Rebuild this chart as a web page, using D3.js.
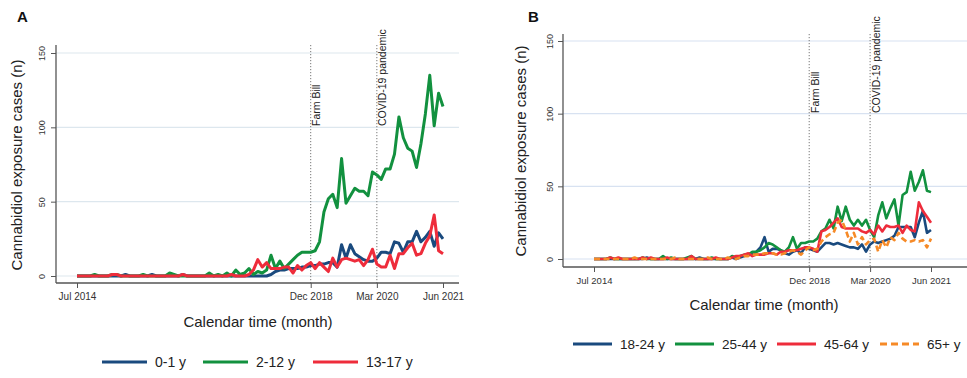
<!DOCTYPE html>
<html>
<head>
<meta charset="utf-8">
<script src="https://cdn.jsdelivr.net/npm/d3@7"></script>
<style>
    body { margin: 0; background: #fff; }
    svg { font-family: "Liberation Sans", Arial, sans-serif; }
</style>
</head>
<body>
<div id="chart"></div>
<script>

// monthly counts, Jul 2014 .. Jun 2021 (84 months)
const firstMonth = "2014-07";
const tickMonths = ["2014-07", "2018-12", "2020-03", "2021-06"];
const tickLabels = ["Jul 2014", "Dec 2018", "Mar 2020", "Jun 2021"];
const eventMonths = ["2018-12", "2020-03"];
const eventLabels = ["Farm Bill", "COVID-19 pandemic"];
const yTicks = [0, 50, 100, 150];

// panel A - children / adolescents
const pedsGroups = ["0-1 y", "2-12 y", "13-17 y"];
const age0to1 = [
    0,0,0,0,0,0,0,0,0,0, 0,1,0,0,0,0,0,1,0,0, 0,0,0,0,1,0,0,0,0,0,
    0,0,0,0,0,0,0,0,0,0, 0,0,0,0,1,3,4,4,5,5, 5,6,6,7,7,8,8,9,9,6,
    21,12,21,15,13,11,10,10,12,16, 16,15,23,22,16,23,23,30,23,26, 30,20,29,25
];
const age2to12 = [
    0,0,0,0,1,0,0,0,1,1, 0,0,0,0,0,1,0,0,0,0, 0,2,1,0,0,0,0,0,0,0,
    2,0,1,0,2,0,4,1,2,5, 1,3,2,4,14,5,10,5,8,11, 14,16,16,16,17,23,43,52,55,46,
    79,49,54,59,57,57,54,70,68,65, 72,72,82,107,93,86,84,73,89,109, 135,101,123,114
];
const age13to17 = [
    0,0,0,0,0,0,0,0,1,1, 0,0,0,0,0,0,0,0,0,0, 0,0,0,0,1,0,0,0,0,0,
    0,0,0,0,0,1,0,0,0,1, 4,11,6,9,5,5,5,6,6,2, 7,4,7,9,5,9,6,3,12,6,
    11,12,11,10,11,7,11,18,8,6, 6,14,5,15,15,19,22,14,15,22, 27,41,17,15
];

// panel B - adults
const adultGroups = ["18-24 y", "25-44 y", "45-64 y", "65+ y"];
const age18to24 = [
    0,0,0,0,0,0,0,0,0,0, 0,0,0,1,0,0,0,0,0,0, 0,0,0,0,0,0,1,0,0,0, 0,0,0,0,1,0,
    1,2,3,3,5,8,15,5,7,7, 6,4,3,5,6,4,8,7,6,5, 8,11,11,10,11,10,9,8,8,7,
    10,5,10,12,11,12,13,14,16,22, 22,22,22,15,25,33,18,20
];
const age25to44 = [
    0,0,0,0,1,0,0,0,0,0, 0,0,1,0,0,0,0,2,0,1, 0,0,0,1,2,0,0,0,0,1, 0,0,0,0,2,1,
    2,3,3,5,5,6,8,11,10,8, 6,5,8,15,7,11,11,12,12,14, 19,21,27,21,36,26,36,27,23,27,
    23,27,20,15,30,39,28,35,41,23, 44,46,60,47,53,61,47,46
];
const age45to64 = [
    0,0,0,0,1,0,1,0,0,0, 0,0,1,0,1,0,0,0,1,0, 0,0,0,0,2,0,0,0,0,0, 1,0,0,0,1,2,
    2,3,4,2,3,3,3,4,4,3, 5,5,6,6,6,7,8,8,7,5, 19,20,22,25,28,22,21,21,21,21,
    19,18,20,17,23,19,23,22,22,23, 18,23,20,19,39,33,29,25
];
const age65plus = [
    0,0,0,0,0,0,0,0,0,0, 1,0,0,0,0,0,0,0,0,0, 1,0,0,0,0,0,0,0,1,0, 0,0,0,1,0,0,
    1,2,2,3,3,3,4,4,4,3, 3,4,5,6,5,3,6,8,6,7, 12,15,17,18,25,27,20,12,18,10,
    15,10,13,14,5,13,8,15,13,18, 14,12,12,13,12,13,8,14
];

const blue = "#1a4a7e", green = "#12913f", red = "#ee2c3b", orange = "#f68a27";

function monthIndex(s) {
    let [y, m] = s.split("-").map(Number);
    let [y0, m0] = firstMonth.split("-").map(Number);
    return (y - y0) * 12 + (m - m0);
}

const svg = d3.select("#chart").append("svg")
    .attr("width", 967)
    .attr("height", 378);

function drawPanel(p) {

    let g = svg.append("g");

    let x = d3.scaleLinear().domain([0, 83]).range([p.x0, p.x1]);
    let y = d3.scaleLinear().domain([0, 150]).range([p.yZero, p.yTop]);

    // panel letter
    g.append("text")
        .attr("x", p.letterX).attr("y", 22)
        .attr("font-size", 15).attr("font-weight", "bold")
        .attr("fill", "#111")
        .text(p.letter);

    // gridlines
    g.selectAll(".grid").data(yTicks).enter().append("line")
        .attr("x1", p.left).attr("x2", p.right)
        .attr("y1", d => y(d)).attr("y2", d => y(d))
        .attr("stroke", p.gridColor).attr("stroke-width", 1.2);

    // event lines
    eventMonths.forEach((m, i) => {
        let xe = x(monthIndex(m));
        g.append("line")
            .attr("x1", xe).attr("x2", xe)
            .attr("y1", p.top).attr("y2", p.axisY)
            .attr("stroke", "#777").attr("stroke-width", 1)
            .attr("stroke-dasharray", "1.2,1.8");
        g.append("text")
            .attr("transform", "translate(" + (xe + p.eventDx) + "," + p.eventY + ") rotate(-90)")
            .attr("font-size", p.eventSize).attr("fill", "#222")
            .text(eventLabels[i]);
    });

    // axes
    let xAxis = d3.axisBottom(x)
        .tickValues(tickMonths.map(monthIndex))
        .tickFormat((d, i) => tickLabels[i])
        .tickSize(5).tickPadding(5);
    let gx = g.append("g")
        .attr("transform", "translate(0," + p.axisY + ")")
        .call(xAxis);
    gx.select(".domain").remove();
    gx.selectAll("line").attr("stroke", "#555");
    gx.selectAll("text").attr("font-size", p.tickSize).attr("fill", "#333").attr("font-family", null);

    let yAxis = d3.axisLeft(y).tickValues(yTicks).tickSize(5);
    let gy = g.append("g")
        .attr("transform", "translate(" + p.left + ",0)")
        .call(yAxis);
    gy.select(".domain").remove();
    gy.selectAll("line").attr("stroke", "#555");
    gy.selectAll("text")
        .attr("x", 0).attr("dy", null)
        .attr("y", -p.yLabelOff)
        .attr("transform", "rotate(-90)")
        .attr("text-anchor", "middle")
        .attr("font-size", 9).attr("fill", "#333").attr("font-family", null);

    g.append("line")
        .attr("x1", p.left).attr("x2", p.left)
        .attr("y1", p.top).attr("y2", p.axisY)
        .attr("stroke", "#555").attr("stroke-width", 1.3);
    g.append("line")
        .attr("x1", p.left).attr("x2", p.right)
        .attr("y1", p.axisY).attr("y2", p.axisY)
        .attr("stroke", "#555").attr("stroke-width", 1.3);

    // axis titles
    g.append("text")
        .attr("x", p.xTitleX).attr("y", p.xTitleY)
        .attr("text-anchor", "middle")
        .attr("font-size", 15).attr("fill", "#222")
        .text("Calendar time (month)");
    g.append("text")
        .attr("transform", "translate(" + p.yTitleX + "," + p.yTitleY + ") rotate(-90)")
        .attr("text-anchor", "middle")
        .attr("font-size", 15).attr("fill", "#222")
        .text("Cannabidiol exposure cases (n)");

    // series
    let line = d3.line()
        .x((d, i) => x(i))
        .y(d => y(d));

    p.series.forEach((s, i) => {
        g.append("path")
            .datum(s)
            .attr("d", line)
            .attr("fill", "none")
            .attr("stroke", p.colors[i])
            .attr("stroke-width", p.lineWidth)
            .attr("stroke-linejoin", "round")
            .attr("stroke-dasharray", p.dashes[i]);
    });

    // legend
    p.names.forEach((name, i) => {
        let lx = p.legendX[i];
        g.append("line")
            .attr("x1", lx).attr("x2", lx + p.legendLen)
            .attr("y1", p.legendY).attr("y2", p.legendY)
            .attr("stroke", p.colors[i])
            .attr("stroke-width", 3.2)
            .attr("stroke-dasharray", p.dashes[i] ? "7,4" : null);
        g.append("text")
            .attr("x", lx + p.legendLen + 8).attr("y", p.legendY + 5)
            .attr("font-size", p.legendSize).attr("fill", "#222")
            .text(name);
    });
}

drawPanel({
    letter: "A", letterX: 17,
    left: 56, right: 459, top: 45, axisY: 283,
    x0: 77, x1: 443, yZero: 276, yTop: 53,
    gridColor: "#dde7ee",
    eventDx: 9, eventY: 126, eventSize: 10.5,
    tickSize: 10, yLabelOff: 11,
    xTitleX: 258, xTitleY: 327, yTitleX: 22, yTitleY: 165,
    series: [age0to1, age2to12, age13to17],
    names: pedsGroups,
    colors: [blue, green, red],
    dashes: [null, null, null],
    lineWidth: 3,
    legendX: [102, 203, 313], legendLen: 45, legendY: 362, legendSize: 14
});

drawPanel({
    letter: "B", letterX: 528,
    left: 563, right: 967, top: 34, axisY: 267,
    x0: 594, x1: 931, yZero: 259, yTop: 41,
    gridColor: "#d8e2f1",
    eventDx: 10, eventY: 113, eventSize: 10.5,
    tickSize: 9.5, yLabelOff: 10,
    xTitleX: 764, xTitleY: 310, yTitleX: 526, yTitleY: 151,
    series: [age18to24, age25to44, age45to64, age65plus],
    names: adultGroups,
    colors: [blue, green, red, orange],
    dashes: [null, null, null, "6,3.5"],
    lineWidth: 2.6,
    legendX: [573, 675, 777, 880], legendLen: 39, legendY: 344, legendSize: 13.5
});

</script>
</body>
</html>
